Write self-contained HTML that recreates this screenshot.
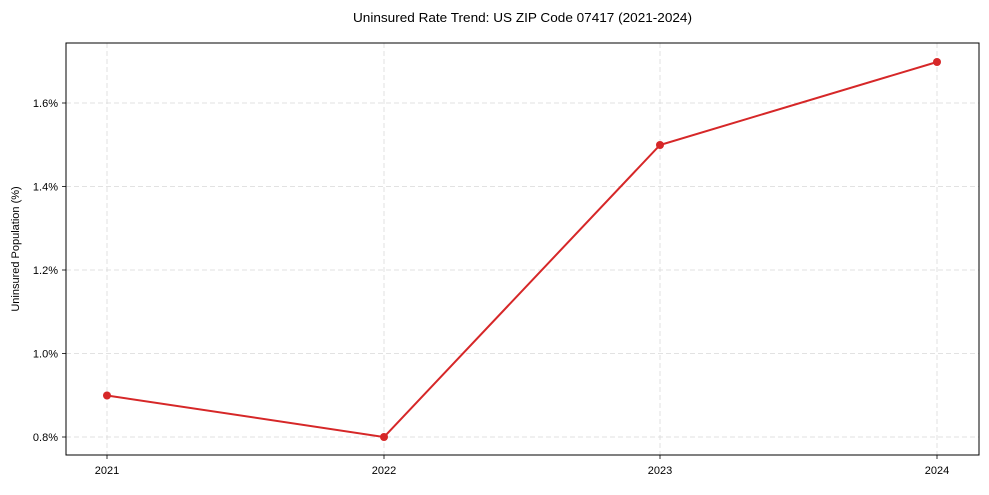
<!DOCTYPE html>
<html><head><meta charset="utf-8"><style>body{margin:0;background:#fff}svg text{font-family:"Liberation Sans",sans-serif;fill:#000}</style></head>
<body>
<svg width="989" height="490" viewBox="0 0 989 490" xmlns="http://www.w3.org/2000/svg">
<rect width="989" height="490" fill="#fff"/>
<g stroke="#d9d9d9" stroke-width="0.8" stroke-dasharray="5,3">
<line x1="107" y1="43" x2="107" y2="455"/><line x1="384" y1="43" x2="384" y2="455"/>
<line x1="660" y1="43" x2="660" y2="455"/><line x1="937" y1="43" x2="937" y2="455"/>
<line x1="66" y1="437" x2="979" y2="437"/><line x1="66" y1="353.5" x2="979" y2="353.5"/>
<line x1="66" y1="270" x2="979" y2="270"/><line x1="66" y1="186.5" x2="979" y2="186.5"/>
<line x1="66" y1="103" x2="979" y2="103"/>
</g>
<rect x="66" y="43" width="913" height="412" fill="none" stroke="#000" stroke-width="1"/>
<g stroke="#000" stroke-width="0.8">
<line x1="107" y1="455" x2="107" y2="459"/><line x1="384" y1="455" x2="384" y2="459"/>
<line x1="660" y1="455" x2="660" y2="459"/><line x1="937" y1="455" x2="937" y2="459"/>
<line x1="62" y1="437" x2="66" y2="437"/><line x1="62" y1="353.5" x2="66" y2="353.5"/>
<line x1="62" y1="270" x2="66" y2="270"/><line x1="62" y1="186.5" x2="66" y2="186.5"/>
<line x1="62" y1="103" x2="66" y2="103"/>
</g>
<g font-size="11" text-anchor="middle">
<text x="107" y="474">2021</text><text x="384" y="474">2022</text>
<text x="660" y="474">2023</text><text x="937" y="474">2024</text>
</g>
<g font-size="11" text-anchor="end">
<text x="58" y="441">0.8%</text><text x="58" y="357.5">1.0%</text>
<text x="58" y="274">1.2%</text><text x="58" y="190.5">1.4%</text>
<text x="58" y="107">1.6%</text>
</g>
<text x="353" y="22" font-size="12.5" textLength="339" lengthAdjust="spacingAndGlyphs">Uninsured Rate Trend: US ZIP Code 07417 (2021-2024)</text>
<text x="19" y="249" font-size="11" text-anchor="middle" transform="rotate(-90 19 249)">Uninsured Population (%)</text>
<polyline points="107,395.5 384,437 660,145 937,62" fill="none" stroke="#d62728" stroke-width="2"/>
<g fill="#d62728">
<circle cx="107" cy="395.5" r="4"/><circle cx="384" cy="437" r="4"/>
<circle cx="660" cy="145" r="4"/><circle cx="937" cy="62" r="4"/>
</g>
</svg>
</body></html>
